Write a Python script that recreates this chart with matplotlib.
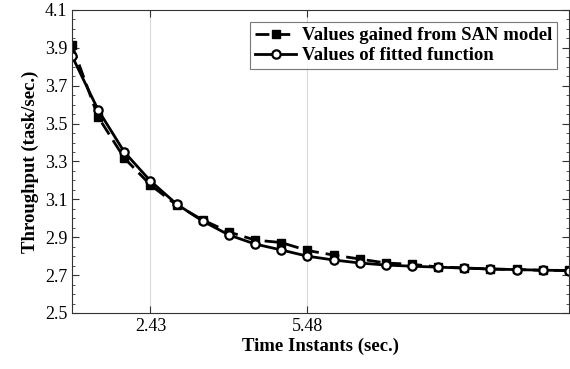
import matplotlib
matplotlib.use("Agg")
import matplotlib.pyplot as plt
from matplotlib.ticker import MultipleLocator
import numpy as np

plt.rcParams['font.family'] = ['Liberation Serif', 'DejaVu Serif']

step = (5.48 - 2.43) / 6
time_x = [2.43 + (i - 3) * step for i in range(20)]
san_values = [3.915, 3.535, 3.318, 3.176, 3.070, 2.991, 2.928, 2.885, 2.872, 2.830,
              2.806, 2.785, 2.764, 2.757, 2.743, 2.738, 2.732, 2.730, 2.725, 2.725]
fit_values = [3.857, 3.572, 3.350, 3.197, 3.075, 2.985, 2.912, 2.864, 2.833, 2.800,
              2.780, 2.764, 2.753, 2.747, 2.742, 2.737, 2.732, 2.729, 2.726, 2.724]
xtick_vals = [2.43, 5.48]
xtick_labels = ['2.43', '5.48']
ytick_vals = [2.5, 2.7, 2.9, 3.1, 3.3, 3.5, 3.7, 3.9, 4.1]
ytick_labels = ['2.5', '2.7', '2.9', '3.1', '3.3', '3.5', '3.7', '3.9', '4.1']

fig = plt.figure(figsize=(5.70, 3.69), dpi=100)
ax = fig.add_axes([0.1263, 0.1518, 0.8717, 0.8212])

ax.plot(time_x, san_values, linestyle=(0, (5, 2.5)), color='black', linewidth=2,
        marker='s', markersize=6, markerfacecolor='black', markeredgecolor='black',
        label='Values gained from SAN model')
ax.plot(time_x, fit_values, linestyle='-', color='black', linewidth=2,
        marker='o', markersize=6, markerfacecolor='white', markeredgecolor='black',
        markeredgewidth=1.6, label='Values of fitted function')

ax.set_xlim(time_x[0], time_x[-1])
ax.set_xticks(xtick_vals)
ax.set_xticklabels(xtick_labels)
ax.set_yticks(ytick_vals)
ax.set_yticklabels(ytick_labels)
ax.yaxis.set_minor_locator(MultipleLocator(0.05))
ax.set_ylim(2.5, 4.1)
ax.grid(axis='x', color='#d9d9d9', linewidth=0.8)
ax.tick_params(axis='both', which='both', direction='in', top=True, right=True,
               labelsize=13, colors='#333333', labelcolor='black')
ax.tick_params(which='major', length=5)
ax.tick_params(which='minor', length=2.5)
for s in ax.spines.values():
    s.set_color('#333333')
    s.set_linewidth(0.8)

ax.set_xlabel('Time Instants (sec.)', fontsize=13.5, fontweight='bold', labelpad=2)
ax.set_ylabel('Throughput (task/sec.)', fontsize=13.5, fontweight='bold', labelpad=4)

leg = ax.legend(loc='upper right', prop={'weight': 'bold', 'size': 13.5},
                frameon=True, fancybox=False, edgecolor='#555555', borderpad=0.25,
                handlelength=2.2, handletextpad=0.3, labelspacing=0.15,
                bbox_to_anchor=(0.995, 0.99))
leg.get_frame().set_linewidth(0.8)

fig.savefig('out.png', dpi=100)
